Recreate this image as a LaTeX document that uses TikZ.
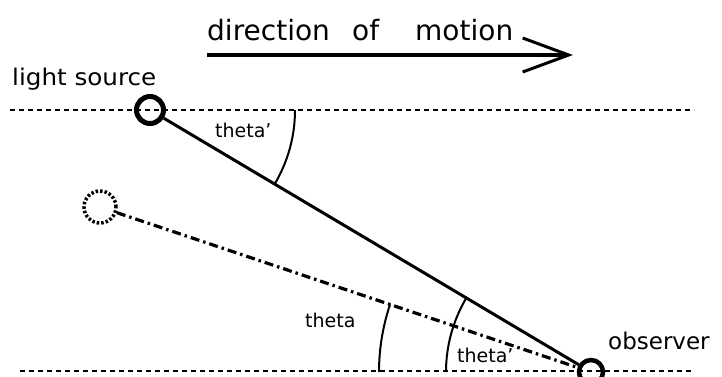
\documentclass[tikz,border=0pt]{standalone}
\usepackage{fontspec}
\setmainfont{DejaVu Sans}
\usetikzlibrary{arrows.meta}
\begin{document}
\begin{tikzpicture}[x=1pt,y=-1pt,
  body/.style={circle,draw,line width=5pt,minimum size=27pt,inner sep=0pt},
  ghost/.style={circle,draw,line width=3.5pt,dash pattern=on 2.5pt off 2pt,minimum size=32pt,inner sep=0pt},
  track/.style={line width=2.2pt,dash pattern=on 5pt off 4pt},
  ray/.style={line width=3pt},
  oldray/.style={line width=3.2pt,dash pattern=on 9pt off 4pt on 2.5pt off 4pt},
  anglearc/.style={line width=2pt},
  lbl/.style={inner sep=0pt,anchor=base west,font=\fontsize{19}{21}\selectfont},
  title/.style={inner sep=0pt,anchor=base west,font=\fontsize{28}{30}\selectfont}]
\useasboundingbox (0,0) rectangle (722,376);
% tracks
\coordinate (t1a) at (10,110);
\coordinate (t1b) at (694,110);
\coordinate (t2a) at (20,371);
\coordinate (t2b) at (691,371);
\draw[track] (t1a) -- (t1b);
\draw[track,line width=2.6pt] (t2a) -- (t2b);
% bodies
\node[body] (src) at (150,110) {};
\node[body,minimum size=24pt,line width=4.5pt] (obs) at (591,372) {};
\node[ghost] (img) at (100,207) {};
% rays
\draw[ray] (src) -- (obs);
\draw[oldray] (img) -- (obs);
% angle arcs
\draw[anglearc] (295,110) arc[start angle=0,end angle=30.6,radius=145];
\draw[anglearc] (379,372) arc[start angle=180,end angle=198.6,radius=212];
\draw[anglearc] (446,372) arc[start angle=180,end angle=210.6,radius=145];
% labels
\node[lbl] (l1) at (215,137) {theta'};
\node[lbl] (l2) at (305,327) {theta};
\node[lbl] (l3) at (457,362) {theta'};
\node[inner sep=0pt,anchor=base west,font=\fontsize{23}{25}\selectfont] (ls) at (12,85) {\scalebox{1.07}[1]{light source}};
\node[inner sep=0pt,anchor=base west,font=\fontsize{23}{25}\selectfont] (ob) at (608,349) {observer};
% direction of motion
\node[title] (d1) at (207,40) {direction};
\node[title] (d2) at (352,40) {of};
\node[title] (d3) at (415,40) {motion};
\coordinate (aa) at (207,55);
\coordinate (ab) at (573,55);
\draw[line width=4pt,-{Straight Barb[length=46pt,width=34pt,line width=3pt]}] (aa) -- (ab);
\end{tikzpicture}
\end{document}
